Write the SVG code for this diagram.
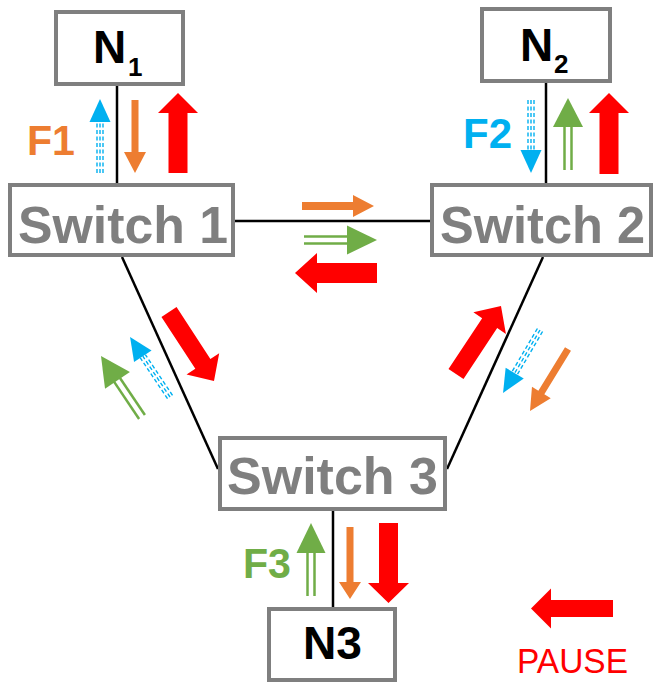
<svg xmlns="http://www.w3.org/2000/svg" width="657" height="684" viewBox="0 0 657 684">
<style>
.box{fill:#fff;stroke:#7f7f7f;stroke-width:4}
.sw{font-family:"Liberation Sans",Arial,sans-serif;font-weight:bold;font-size:52px;fill:#7f7f7f}
.nd{font-family:"Liberation Sans",Arial,sans-serif;font-weight:bold;font-size:46px;fill:#000}
.sub{font-size:26px}
.lbl{font-family:"Liberation Sans",Arial,sans-serif;font-weight:bold;font-size:42px}
.link{stroke:#000;stroke-width:2.5;fill:none}
.red{fill:#ff0000}
.org{fill:#ed7d31}
.grn{fill:#70ad47}
.grnl{stroke:#70ad47;stroke-width:2.5}
.blu{fill:#00b0f0}
.blul{stroke:#00b0f0;stroke-width:1.4;stroke-dasharray:4 2.5}
</style>
<rect width="657" height="684" fill="#fff"/>
<g id="connectors">
<line class="link" x1="117" y1="86" x2="117" y2="183"/>
<line class="link" x1="546" y1="83" x2="546" y2="183"/>
<line class="link" x1="333" y1="511" x2="333" y2="607"/>
<line class="link" x1="235" y1="221" x2="430" y2="221"/>
<line class="link" x1="122" y1="257" x2="218" y2="469"/>
<line class="link" x1="543" y1="257" x2="447" y2="469"/>
</g>
<g id="N1">
<rect class="box" x="56" y="12" width="127" height="72"/>
<text class="nd" x="93" y="63">N<tspan class="sub" x="128" y="76">1</tspan></text>
</g>
<g id="N2">
<rect class="box" x="482" y="9" width="128" height="72"/>
<text class="nd" x="520" y="61">N<tspan class="sub" x="554" y="73">2</tspan></text>
</g>
<g id="N3">
<rect class="box" x="269" y="609" width="126" height="71"/>
<text class="nd" x="303" y="659" textLength="59" lengthAdjust="spacingAndGlyphs">N3</text>
</g>
<g id="switch1">
<rect class="box" x="10" y="185" width="223" height="70"/>
<text class="sw" x="18" y="243" textLength="210" lengthAdjust="spacingAndGlyphs">Switch 1</text>
</g>
<g id="switch2">
<rect class="box" x="432" y="185" width="219" height="70"/>
<text class="sw" x="440" y="243" textLength="205" lengthAdjust="spacingAndGlyphs">Switch 2</text>
</g>
<g id="switch3">
<rect class="box" x="220" y="438" width="225" height="71"/>
<text class="sw" x="227" y="494" textLength="211" lengthAdjust="spacingAndGlyphs">Switch 3</text>
</g>
<g id="flows">
<g transform="translate(100,173) rotate(-90)">
<line class="blul" x1="0" y1="-3" x2="51" y2="-3"/><line class="blul" x1="0" y1="0" x2="51" y2="0"/><line class="blul" x1="0" y1="3" x2="51" y2="3"/>
<polygon class="blu" points="51,-10.5 74,0 51,10.5"/>
</g>
<polygon class="org" transform="translate(135,100) rotate(90)" points="0,-3.5 52,-3.5 52,-11 73,0 52,11 52,3.5 0,3.5"/>
<polygon class="red" transform="translate(178,173) rotate(-90)" points="0,-9.5 60,-9.5 60,-20 80,0 60,20 60,9.5 0,9.5"/>
<g transform="translate(531,100) rotate(90)">
<line class="blul" x1="0" y1="-3" x2="50" y2="-3"/><line class="blul" x1="0" y1="0" x2="50" y2="0"/><line class="blul" x1="0" y1="3" x2="50" y2="3"/>
<polygon class="blu" points="50,-10.5 73,0 50,10.5"/>
</g>
<g transform="translate(568,170) rotate(-90)">
<line class="grnl" x1="0" y1="-3.5" x2="44" y2="-3.5"/><line class="grnl" x1="0" y1="3.5" x2="44" y2="3.5"/>
<polygon class="grn" points="43,-15 72,0 43,15"/>
</g>
<polygon class="red" transform="translate(609,174) rotate(-90)" points="0,-9.5 61,-9.5 61,-20 81,0 61,20 61,9.5 0,9.5"/>
<polygon class="org" transform="translate(302,206)" points="0,-4 51,-4 51,-11 72,0 51,11 51,4 0,4"/>
<g transform="translate(304,240)">
<line class="grnl" x1="0" y1="-3.5" x2="44" y2="-3.5"/><line class="grnl" x1="0" y1="3.5" x2="44" y2="3.5"/>
<polygon class="grn" points="43,-14.5 73,0 43,14.5"/>
</g>
<polygon class="red" transform="translate(377,273) rotate(180)" points="0,-10 60,-10 60,-20 82,0 60,20 60,10 0,10"/>
<polygon class="red" transform="translate(169,312) rotate(56.9)" points="0,-9 62,-9 62,-19.5 82.4,0 62,19.5 62,9 0,9"/>
<g transform="translate(170,397) rotate(-123.7)">
<line class="blul" x1="0" y1="-3" x2="49" y2="-3"/><line class="blul" x1="0" y1="0" x2="49" y2="0"/><line class="blul" x1="0" y1="3" x2="49" y2="3"/>
<polygon class="blu" points="49,-10.5 72,0 49,10.5"/>
</g>
<g transform="translate(142,417) rotate(-123.9)">
<line class="grnl" x1="0" y1="-3.5" x2="45" y2="-3.5"/><line class="grnl" x1="0" y1="3.5" x2="45" y2="3.5"/>
<polygon class="grn" points="44,-15 73.5,0 44,15"/>
</g>
<polygon class="red" transform="translate(456,374) rotate(-56.5)" points="0,-9 61,-9 61,-19.5 81.5,0 61,19.5 61,9 0,9"/>
<g transform="translate(540,330) rotate(120.4)">
<line class="blul" x1="0" y1="-3" x2="50" y2="-3"/><line class="blul" x1="0" y1="0" x2="50" y2="0"/><line class="blul" x1="0" y1="3" x2="50" y2="3"/>
<polygon class="blu" points="50,-10.5 73,0 50,10.5"/>
</g>
<polygon class="org" transform="translate(568,349) rotate(121.5)" points="0,-3.5 51,-3.5 51,-11 72.7,0 51,11 51,3.5 0,3.5"/>
<g transform="translate(311,596) rotate(-90)">
<line class="grnl" x1="0" y1="-3.5" x2="44" y2="-3.5"/><line class="grnl" x1="0" y1="3.5" x2="44" y2="3.5"/>
<polygon class="grn" points="43,-14.5 73,0 43,14.5"/>
</g>
<polygon class="org" transform="translate(350,527) rotate(90)" points="0,-3.5 55,-3.5 55,-11 72,0 55,11 55,3.5 0,3.5"/>
<polygon class="red" transform="translate(388.5,523) rotate(90)" points="0,-9.5 60,-9.5 60,-20.5 80,0 60,20.5 60,9.5 0,9.5"/>
</g>
<g id="labels">
<text class="lbl" x="27" y="155" fill="#ed7d31" textLength="48" lengthAdjust="spacingAndGlyphs">F1</text>
<text class="lbl" x="463" y="148" fill="#00b0f0" textLength="49" lengthAdjust="spacingAndGlyphs">F2</text>
<text class="lbl" x="243" y="578" fill="#70ad47" textLength="48" lengthAdjust="spacingAndGlyphs">F3</text>
</g>
<g id="legend">
<polygon class="red" transform="translate(613,608.5) rotate(180)" points="0,-8.5 62,-8.5 62,-20 82,0 62,20 62,8.5 0,8.5"/>
<text x="517" y="673" fill="#ff0000" font-family="'Liberation Sans',Arial,sans-serif" font-size="35" textLength="111" lengthAdjust="spacingAndGlyphs">PAUSE</text>
</g>
</svg>
